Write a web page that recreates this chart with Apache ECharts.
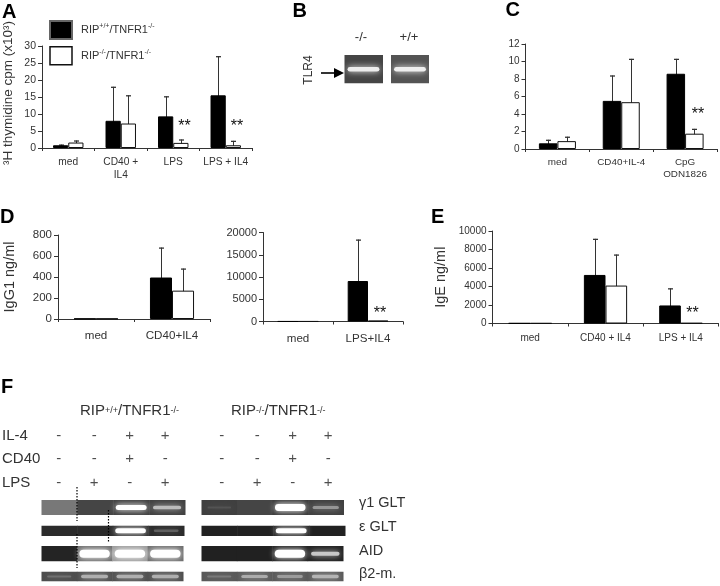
<!DOCTYPE html>
<html><head><meta charset="utf-8">
<script src="https://cdn.jsdelivr.net/npm/echarts@6/dist/echarts.min.js"></script>
<style>html,body{margin:0;padding:0;background:#fff}#c{width:720px;height:586px}</style>
</head><body><div id="c"></div>
<script>
// ---------- DATA ----------
const nameKO = 'RIP-/-/TNFR1-/-';
const nameWT = 'RIP+/+/TNFR1-/-';

const aCats = ['med', 'CD40 +\nIL4', 'LPS', 'LPS + IL4'];
const aBlack = [0.8, 8, 9.3, 15.5];
const aBlackUp = [1.0, 18, 15.2, 27];
const aWhite = [1.6, 7.2, 1.5, 0.8];
const aWhiteUp = [2.2, 15.5, 2.5, 2.1];

const cCats = ['med', 'CD40+IL-4', 'CpG\nODN1826'];
const cBlack = [0.65, 5.5, 8.6];
const cBlackUp = [1.05, 8.4, 10.3];
const cWhite = [0.9, 5.35, 1.75];
const cWhiteUp = [1.4, 10.3, 2.3];

const d1Cats = ['med', 'CD40+IL4'];
const d1Black = [3, 395];
const d1BlackUp = [null, 680];
const d1White = [3, 270];
const d1WhiteUp = [null, 480];

const d2Cats = ['med', 'LPS+IL4'];
const d2Black = [20, 9100];
const d2BlackUp = [null, 18400];
const d2White = [20, 180];
const d2WhiteUp = [null, null];

const eCats = ['med', 'CD40 + IL4', 'LPS + IL4'];
const eBlack = [30, 5250, 1950];
const eBlackUp = [null, 9150, 3800];
const eWhite = [30, 4100, 50];
const eWhiteUp = [null, 7450, null];

// gel lane intensities (0 = no band) and lane background grey level
const tlr4Neg = [0.9], tlr4NegBg = [0.27];
const tlr4Pos = [0.9], tlr4PosBg = [0.33];
const g1Wt = [0, 0, 1.0, 0.65], g1WtBg = [0.47, 0.27, 0.25, 0.25];
const eWt = [0, 0, 1.0, 0.25], eWtBg = [0.17, 0.17, 0.17, 0.17];
const aidWt = [0, 1.9, 1.9, 1.9], aidWtBg = [0.14, 0.42, 0.6, 0.42];
const b2Wt = [0.2, 0.55, 0.55, 0.55], b2WtBg = [0.3, 0.3, 0.3, 0.3];
const g1Ko = [0.1, 0, 1.5, 0.45], g1KoBg = [0.25, 0.27, 0.22, 0.25];
const eKo = [0, 0, 1.0, 0], eKoBg = [0.13, 0.13, 0.13, 0.13];
const aidKo = [0, 0, 1.9, 0.75], aidKoBg = [0.13, 0.13, 0.13, 0.13];
const b2Ko = [0.2, 0.5, 0.4, 0.55], b2KoBg = [0.35, 0.35, 0.35, 0.35];

const rowNames = ['IL-4', 'CD40', 'LPS'];
const il4Signs = ['-', '-', '+', '+'];
const cd40Signs = ['-', '-', '+', '-'];
const lpsSigns = ['-', '+', '-', '+'];

// ---------- BUILD ----------
const FF = '"Liberation Sans", Arial, sans-serif';
const INK = '#333';
const grid = [], xAxis = [], yAxis = [], series = [], graphic = [];

function errorSeries(idx, ups, sign, ratio) {
  series.push({
    type: 'custom', xAxisIndex: idx, yAxisIndex: idx, silent: true, z: 1,
    data: ups.map((u, i) => [i, u]),
    renderItem(params, api) {
      if (api.value(1) == null || isNaN(api.value(1))) return null;
      const cw = api.size([1, 0])[0];
      const base = api.coord([api.value(0), 0]);
      const top = api.coord([api.value(0), api.value(1)]);
      const x = Math.round(base[0] + sign * cw * ratio / 2) + 0.5;
      const st = { stroke: '#333', lineWidth: 1 };
      return { type: 'group', children: [
        { type: 'line', shape: { x1: x, y1: base[1], x2: x, y2: top[1] }, style: st },
        { type: 'line', shape: { x1: x - 2.5, y1: top[1] + 0.5, x2: x + 2.5, y2: top[1] + 0.5 }, style: { stroke: '#333', lineWidth: 1.3 } }
      ] };
    }
  });
}

function barPanel(p) {
  const idx = grid.length;
  grid.push({ left: p.left, top: p.top, width: p.w, height: p.h, outerBoundsMode: 'none' });
  xAxis.push({
    gridIndex: idx, type: 'category', data: p.cats,
    axisLine: { lineStyle: { color: INK, width: 1 } },
    axisTick: { show: true, length: 3, alignWithLabel: false, lineStyle: { color: INK } },
    axisLabel: { interval: 0, color: INK, fontFamily: FF, fontSize: p.xfs, margin: p.xm, lineHeight: p.xfs + 2.5 }
  });
  yAxis.push({
    gridIndex: idx, type: 'value', min: 0, max: p.max, interval: p.step,
    name: p.name || '', nameLocation: 'middle', nameGap: p.nameGap || 0, nameRotate: 90, nameMoveOverlap: false,
    nameTextStyle: { color: INK, fontFamily: FF, fontSize: p.nfs || 14, padding: p.namePad || 0 },
    splitLine: { show: false },
    axisLine: { show: true, lineStyle: { color: INK, width: 1 } },
    axisTick: { show: true, length: 4, lineStyle: { color: INK } },
    axisLabel: { color: INK, fontFamily: FF, fontSize: p.yfs, margin: 6, showMinLabel: true, showMaxLabel: true, formatter: v => String(v) }
  });
  const bw = (p.ratio * 100) + '%';
  series.push({ name: nameWT, type: 'bar', xAxisIndex: idx, yAxisIndex: idx, data: p.black, barWidth: bw, barGap: 0, z: 3,
    itemStyle: { color: '#000', borderColor: '#000', borderWidth: 1 } });
  series.push({ name: nameKO, type: 'bar', xAxisIndex: idx, yAxisIndex: idx, data: p.white, barWidth: bw, barGap: 0, z: 3,
    itemStyle: { color: '#fff', borderColor: '#111', borderWidth: 1 } });
  errorSeries(idx, p.blackUp, -1, p.ratio);
  errorSeries(idx, p.whiteUp, 1, p.ratio);
}

function gel(left, top, w, h, bands, bgs) {
  const idx = grid.length;
  grid.push({ left, top, width: w, height: h, outerBoundsMode: 'none' });
  xAxis.push({ gridIndex: idx, type: 'value', min: 0, max: bands.length, show: false });
  yAxis.push({ gridIndex: idx, type: 'value', min: 0, max: 1, show: false });
  series.push({
    type: 'custom', xAxisIndex: idx, yAxisIndex: idx, silent: true, clip: true,
    data: bands.map((b, i) => [i, b, bgs[i]]),
    renderItem(params, api) {
      const lane = api.value(0), v = api.value(1), bg = api.value(2);
      const tl = api.coord([lane, 1]), sz = api.size([1, 1]);
      const grey = l => { const c = Math.round(Math.min(1, l) * 255); return `rgb(${c},${c},${c})`; };
      const children = [{ type: 'rect', z2: 0, shape: { x: tl[0], y: tl[1], width: sz[0] + 0.5, height: sz[1] }, style: { fill: grey(bg) } }];
      if (v > 0) {
        const bw = sz[0] * (0.64 + 0.22 * Math.min(1, v));
        const bh = Math.min(sz[1] * 0.78, 1.4 + 3.6 * v);
        const col = grey(bg + (1 - bg) * Math.min(1, v));
        children.push({ type: 'rect', z2: 1,
          shape: { x: tl[0] + (sz[0] - bw) / 2, y: tl[1] + (sz[1] - bh) / 2, width: bw, height: bh, r: bh / 2 },
          style: { fill: col, shadowBlur: 6, shadowColor: col } });
      }
      return { type: 'group', children };
    }
  });
}

function signGrid(left, showLabels) {
  const idx = grid.length;
  grid.push({ left, top: 424, width: 142, height: 70.5, outerBoundsMode: 'none' });
  xAxis.push({ gridIndex: idx, type: 'value', min: 0, max: 4, show: false });
  yAxis.push({ gridIndex: idx, type: 'category', inverse: true, data: rowNames, show: showLabels,
    axisLine: { show: false }, axisTick: { show: false },
    axisLabel: { show: showLabels, align: 'left', margin: 39, color: INK, fontFamily: FF, fontSize: 15 } });
  const data = [];
  [il4Signs, cd40Signs, lpsSigns].forEach((row, r) => row.forEach((s, i) => data.push([i + 0.5, r, s])));
  series.push({ type: 'scatter', xAxisIndex: idx, yAxisIndex: idx, silent: true, symbolSize: 1,
    itemStyle: { color: 'transparent' }, data,
    label: { show: true, position: 'inside', color: '#222', fontFamily: FF, fontSize: 15,
      formatter: p => p.value[2] } });
}

barPanel({ left: 42, top: 46, w: 210, h: 102, cats: aCats, black: aBlack, white: aWhite, blackUp: aBlackUp, whiteUp: aWhiteUp,
  max: 30, step: 5, ratio: 0.29, xfs: 10.2, yfs: 10.5, xm: 8, name: '³H thymidine cpm (x10³)', nameGap: 27, nfs: 13.5, namePad: [0, 0, 0, 8] });
barPanel({ left: 525.5, top: 44, w: 191.5, h: 105, cats: cCats, black: cBlack, white: cWhite, blackUp: cBlackUp, whiteUp: cWhiteUp,
  max: 12, step: 2, ratio: 0.29, xfs: 9.9, yfs: 10, xm: 7 });
barPanel({ left: 58, top: 235, w: 152, h: 84, cats: d1Cats, black: d1Black, white: d1White, blackUp: d1BlackUp, whiteUp: d1WhiteUp,
  max: 800, step: 200, ratio: 0.29, xfs: 11.6, yfs: 11.5, xm: 10, name: 'IgG1 ng/ml', nameGap: 41, nfs: 14.5 });
barPanel({ left: 263, top: 232.5, w: 140, h: 89, cats: d2Cats, black: d2Black, white: d2White, blackUp: d2BlackUp, whiteUp: d2WhiteUp,
  max: 20000, step: 5000, ratio: 0.29, xfs: 11.6, yfs: 11, xm: 10 });
barPanel({ left: 492.5, top: 231, w: 226, h: 92.5, cats: eCats, black: eBlack, white: eWhite, blackUp: eBlackUp, whiteUp: eWhiteUp,
  max: 10000, step: 2000, ratio: 0.287, xfs: 10, yfs: 10, xm: 8, name: 'IgE ng/ml', nameGap: 44, nfs: 14.5 });

gel(344.5, 55, 38, 28.5, tlr4Neg, tlr4NegBg);
gel(391, 55, 38, 28.5, tlr4Pos, tlr4PosBg);
gel(41.5, 500, 143.5, 15, g1Wt, g1WtBg);
gel(41.5, 525.5, 142.5, 10.5, eWt, eWtBg);
gel(41.5, 546, 141.5, 15.5, aidWt, aidWtBg);
gel(41.5, 571.5, 141.5, 10, b2Wt, b2WtBg);
gel(201.5, 500, 142, 15, g1Ko, g1KoBg);
gel(201.5, 525.5, 143.5, 10.5, eKo, eKoBg);
gel(201.5, 546, 141.5, 15.5, aidKo, aidKoBg);
gel(201.5, 571.5, 141.5, 10, b2Ko, b2KoBg);

signGrid(41, true);
signGrid(204, false);

function txt(text, x, y, fs, o) {
  graphic.push({ type: 'text', x, y, z: 50, silent: true, style: Object.assign({
    text, fill: INK, font: `${(o && o.bold) ? 'bold ' : ''}${fs}px ${FF}`,
    textAlign: (o && o.align) || 'left', textVerticalAlign: 'middle' }, (o && o.style) || {}),
    rotation: (o && o.rotation) || 0 });
}
// panel letters
[['A', 2, 12], ['B', 292.5, 11], ['C', 505.5, 10], ['D', 0, 217], ['E', 431, 217], ['F', 1, 387]]
  .forEach(l => txt(l[0], l[1], l[2], 20, { bold: true, style: { fill: '#000' } }));
// significance stars
[[184.5, 127], [237, 127], [698, 115], [380, 314], [692.5, 314]]
  .forEach(s => txt('**', s[0], s[1], 16, { align: 'center', style: { fill: '#111' } }));
// panel B labels
txt('-/-', 361, 37, 13, { align: 'center' });
txt('+/+', 409, 37, 13, { align: 'center' });
txt('TLR4', 309, 70, 12, { align: 'center', rotation: Math.PI / 2 });
graphic.push({ type: 'line', z: 50, silent: true, shape: { x1: 321, y1: 73, x2: 336, y2: 73 }, style: { stroke: '#000', lineWidth: 1.6 } });
graphic.push({ type: 'polygon', z: 50, silent: true, shape: { points: [[334, 68], [344, 73], [334, 78]] }, style: { fill: '#000' } });
// panel F headings
[[80, nameWT], [231, nameKO]].forEach(h => {
  const [a, b] = h[1] === nameWT ? ['+/+', '-/-'] : ['-/-', '-/-'];
  graphic.push({ type: 'text', x: h[0], y: 411, z: 50, silent: true, style: {
    text: `{a|RIP}{s|${a}}{a|/TNFR1}{s|${b}}`, textVerticalAlign: 'middle',
    rich: { a: { font: `15px ${FF}`, fill: INK }, s: { font: `9px ${FF}`, fill: INK } } } });
});
// gel names
[['γ1 GLT', 503], ['ε GLT', 527], ['AID', 551], ['β2-m.', 574]].forEach(g => txt(g[0], 359, g[1], 14.5));
// dotted splice lines
[[77, 487, 521], [77, 534, 568], [108.5, 510, 542]].forEach(d => graphic.push({ type: 'line', z: 60, silent: true,
  shape: { x1: d[0], y1: d[1], x2: d[0], y2: d[2] }, style: { stroke: '#000', lineWidth: 1.2, lineDash: [1.5, 1.5] } }));

const sup = { fontSize: 7, color: INK, fontFamily: FF, verticalAlign: 'top', lineHeight: 14 };
const option = {
  animation: false, backgroundColor: '#fff', grid, xAxis, yAxis, series, graphic,
  legend: {
    left: 49, top: 20, orient: 'vertical', padding: 0, itemGap: 6, itemWidth: 22, itemHeight: 18, icon: 'rect', selectedMode: false,
    data: [
      { name: nameWT, itemStyle: { color: '#000', borderColor: '#666', borderWidth: 2 } },
      { name: nameKO, itemStyle: { color: '#fff', borderColor: '#111', borderWidth: 1.5 } }
    ],
    formatter: n => n === nameWT ? '{a|RIP}{s|+/+}{a|/TNFR1}{s|-/-}' : '{a|RIP}{s|-/-}{a|/TNFR1}{s|-/-}',
    textStyle: { padding: [0, 0, 0, 4], rich: { a: { fontSize: 11, color: INK, fontFamily: FF, lineHeight: 14 }, s: sup } }
  }
};
echarts.init(document.getElementById('c'), null, { renderer: 'canvas' }).setOption(option);
</script></body></html>
